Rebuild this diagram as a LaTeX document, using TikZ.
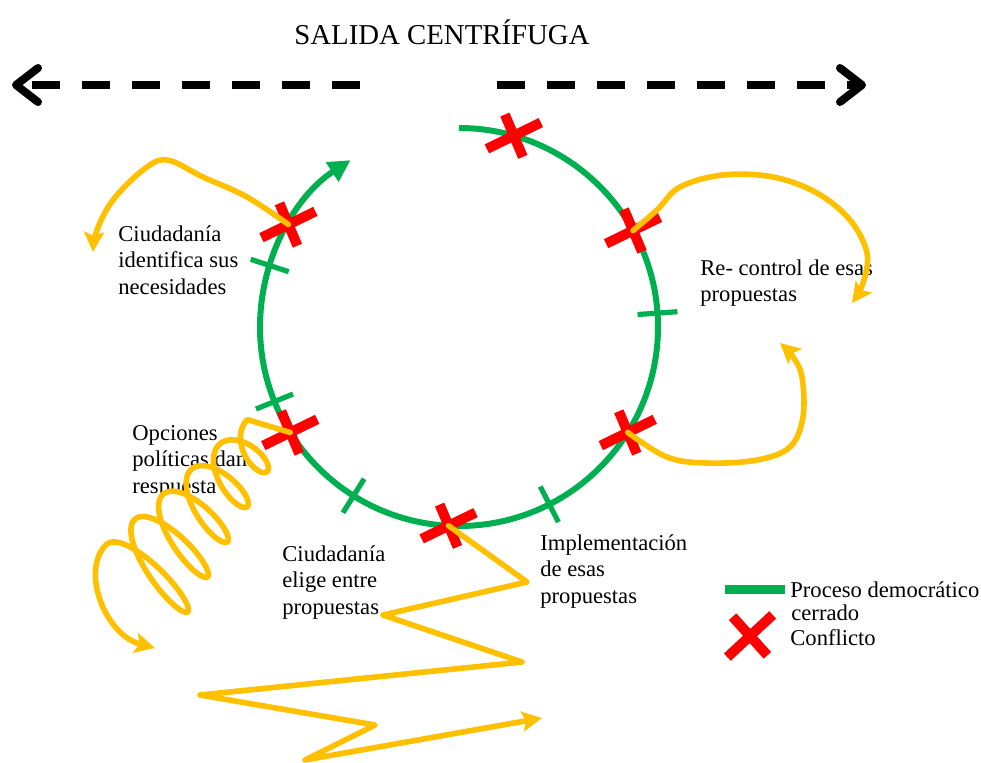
\documentclass[tikz,border=0pt]{standalone}
\usepackage{fontspec}
\setmainfont{Liberation Serif}
\usepackage{tikz}
\usetikzlibrary{arrows.meta}
\definecolor{procV}{HTML}{00B050}
\definecolor{confR}{HTML}{FF0000}
\definecolor{fugaY}{HTML}{FFC000}

\begin{document}
\begin{tikzpicture}[x=0.5pt, y=-0.5pt,
    texto/.style={anchor=north west, inner sep=0pt, align=left, font=\fontsize{11.3}{13.3}\selectfont},
    leyenda/.style={anchor=base west, inner sep=0pt, font=\fontsize{11.3}{13.3}\selectfont},
    proceso/.style={procV, line width=3pt},
    marca/.style={procV, line width=2.6pt},
    cruz/.style={confR, line width=5pt},
    fuga/.style={fugaY, line width=2.8pt, line join=round, line cap=round, -{Stealth[length=10pt,width=10pt,inset=2pt]}},
    salida/.style={black, line width=4pt, dash pattern=on 14pt off 11pt, -{Straight Barb[round,length=11pt,width=17pt]}},
    conflicto/.pic={\draw[cruz] (-26:-30) -- (-26:30) (67:-23) -- (67:23);}]
  \useasboundingbox (0,0) rectangle (981,762);
  % Title and centrifugal exit
  \node[font=\fontsize{14.4}{17}\selectfont] (titulo) at (442,32) {SALIDA CENTRÍFUGA};
  \coordinate (fugaI0) at (360,85);
  \coordinate (fugaI1) at (12,85);
  \coordinate (fugaD0) at (497,85);
  \coordinate (fugaD1) at (866,85);
  \draw[salida] (fugaI0) -- (fugaI1);
  \draw[salida] (fugaD0) -- (fugaD1);
  % Closed democratic process (green circle)
  \begin{scope}[shift={(459,327)}]
    \draw[proceso, -{Triangle[length=11pt,width=11pt]}] (-90:199) arc[start angle=-90, end angle=237, radius=199];
    \foreach \a in {-4,63,122,158,198}
      \draw[marca] (\a:179) -- (\a:219);
    \foreach \a [count=\i] in {-74,-29,32,93,148,211}
      \coordinate (x\i) at (\a:199);
  \end{scope}
  % Conflicts
  \foreach \i in {1,...,6}
    \pic at (x\i) {conflicto};
  % Stage labels
  \node[texto] (necesidades) at (118,225) {Ciudadanía\\identifica sus\\necesidades};
  \node[texto] (recontrol) at (700,259) {Re- control de esas\\propuestas};
  \node[texto] (opciones) at (132,425) {Opciones\\políticas dan\\respuesta};
  \node[texto] (elige) at (282,545) {Ciudadanía\\elige entre\\propuestas};
  \node[texto] (implementa) at (540,534) {Implementación\\de esas\\propuestas};
  % Escapes from the conflicts (yellow)
  \draw[fuga] plot[smooth, tension=0.6] coordinates {(x6) (247,197) (203,177) (167,160) (143,170) (113,200) (97,230) (93,252)};
  \draw[fuga] plot[smooth, tension=0.6] coordinates {(x2) (657,210) (680,187) (723,175) (773,177) (817,193) (850,220) (867,253) (863,283) (852,303)};
  \draw[fuga] plot[smooth, tension=0.6] coordinates {(x3) (667,457) (707,463) (757,460) (790,447) (803,417) (802,377) (793,357) (780,343)};
  \draw[fuga] (x4) -- (527,582) -- (383,615) -- (522,662) -- (200,695) -- (375,725) -- (305,760) -- (542,718);
  \draw[fuga] (x5) -- plot[domain=-180:1620, samples=300, variable=\t]
    ({250-\t/15 + 0.643*(26+\t/55)*cos(\t) + 11*sin(\t)},
     {452+\t/12 + 0.766*(26+\t/55)*cos(\t) - 11*sin(\t)})
    .. controls (80,570) and (105,635) .. (155,648);
  % Legend
  \coordinate (leyV0) at (725,589);
  \coordinate (leyV1) at (785,589);
  \draw[procV, line width=4.5pt] (leyV0) -- (leyV1);
  \node[leyenda] (leyProceso) at (790,597) {Proceso democrático};
  \node[leyenda] (leyCerrado) at (791,620) {cerrado};
  \coordinate (leyX) at (750,636);
  \draw[cruz] (leyX) +(-43:-31) -- +(-43:31) +(48:-26) -- +(48:26);
  \node[leyenda] (leyConflicto) at (790,645) {Conflicto};
\end{tikzpicture}
\end{document}
